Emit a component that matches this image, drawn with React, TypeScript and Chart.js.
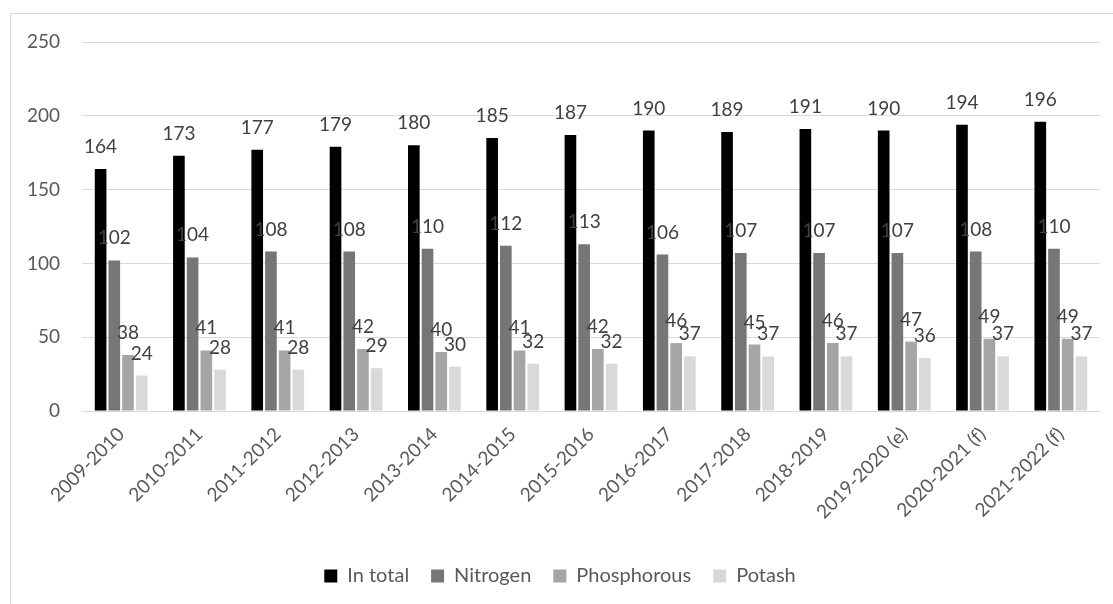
import React, { useEffect, useRef } from "react";
import { Chart, registerables } from "chart.js";

Chart.register(...registerables);

const categories = [
  "2009-2010", "2010-2011", "2011-2012", "2012-2013", "2013-2014", "2014-2015",
  "2015-2016", "2016-2017", "2017-2018", "2018-2019", "2019-2020 (e)", "2020-2021 (f)", "2021-2022 (f)",
];
const inTotal = [164, 173, 177, 179, 180, 185, 187, 190, 189, 191, 190, 194, 196];
const nitrogen = [102, 104, 108, 108, 110, 112, 113, 106, 107, 107, 107, 108, 110];
const phosphorous = [38, 41, 41, 42, 40, 41, 42, 46, 45, 46, 47, 49, 49];
const potash = [24, 28, 28, 29, 30, 32, 32, 37, 37, 37, 36, 37, 37];
const yTicks = [0, 50, 100, 150, 200, 250];

const FONT = "Lato, 'Open Sans', sans-serif";

const labelPlugin = {
  id: "barLabels",
  afterDatasetsDraw(chart: any) {
    const ctx = chart.ctx;
    ctx.save();
    ctx.font = `19px ${FONT}`;
    ctx.fillStyle = "#404040";
    ctx.textAlign = "center";
    ctx.textBaseline = "alphabetic";
    chart.data.datasets.forEach((ds: any, i: number) => {
      const meta = chart.getDatasetMeta(i);
      meta.data.forEach((bar: any, j: number) => {
        ctx.fillText(String(ds.data[j]), bar.x, bar.y - 16);
      });
    });
    ctx.restore();
  },
};

export default function App() {
  const ref = useRef<HTMLCanvasElement>(null);
  useEffect(() => {
    const chart = new Chart(ref.current!, {
      type: "bar",
      data: {
        labels: categories,
        datasets: [
          { label: "In total", data: inTotal, backgroundColor: "#000000" },
          { label: "Nitrogen", data: nitrogen, backgroundColor: "#767676" },
          { label: "Phosphorous", data: phosphorous, backgroundColor: "#a5a5a5" },
          { label: "Potash", data: potash, backgroundColor: "#d9d9d9" },
        ],
      },
      options: {
        responsive: false,
        animation: false,
        layout: { padding: { left: 20, right: 13, top: 42, bottom: 8 } },
        datasets: { bar: { categoryPercentage: 0.7, barPercentage: 0.85 } },
        plugins: {
          tooltip: { enabled: false },
          legend: {
            position: "bottom",
            labels: {
              font: { family: FONT, size: 20 },
              color: "#595959",
              boxWidth: 13,
              boxHeight: 13,
              padding: 22,
            },
          },
        },
        scales: {
          x: {
            grid: { display: false, drawTicks: false },
            border: { display: true, color: "#d9d9d9" },
            ticks: {
              font: { family: FONT, size: 19 },
              color: "#595959",
              minRotation: 45,
              maxRotation: 45,
              padding: 12,
            },
            afterFit: (s: any) => { s.height = 133; },
          },
          y: {
            min: 0,
            max: 250,
            grid: { color: "#d9d9d9", drawTicks: false },
            border: { display: false },
            afterBuildTicks: (s: any) => { s.ticks = yTicks.map((v) => ({ value: v })); },
            ticks: {
              font: { family: FONT, size: 19 },
              color: "#595959",
              padding: 22,
            },
            afterFit: (s: any) => { s.width = 62; },
          },
        },
      },
      plugins: [labelPlugin],
    });
    return () => chart.destroy();
  }, []);
  return (
    <div style={{ position: "fixed", left: 0, top: 0, width: 1113, height: 604, overflow: "hidden", background: "#fff" }}>
      <div style={{ position: "absolute", left: 10, top: 13, width: 1120, height: 620, border: "1px solid #d9d9d9" }} />
      <canvas ref={ref} width={1113} height={604} style={{ position: "absolute", left: 0, top: 0 }} />
    </div>
  );
}
